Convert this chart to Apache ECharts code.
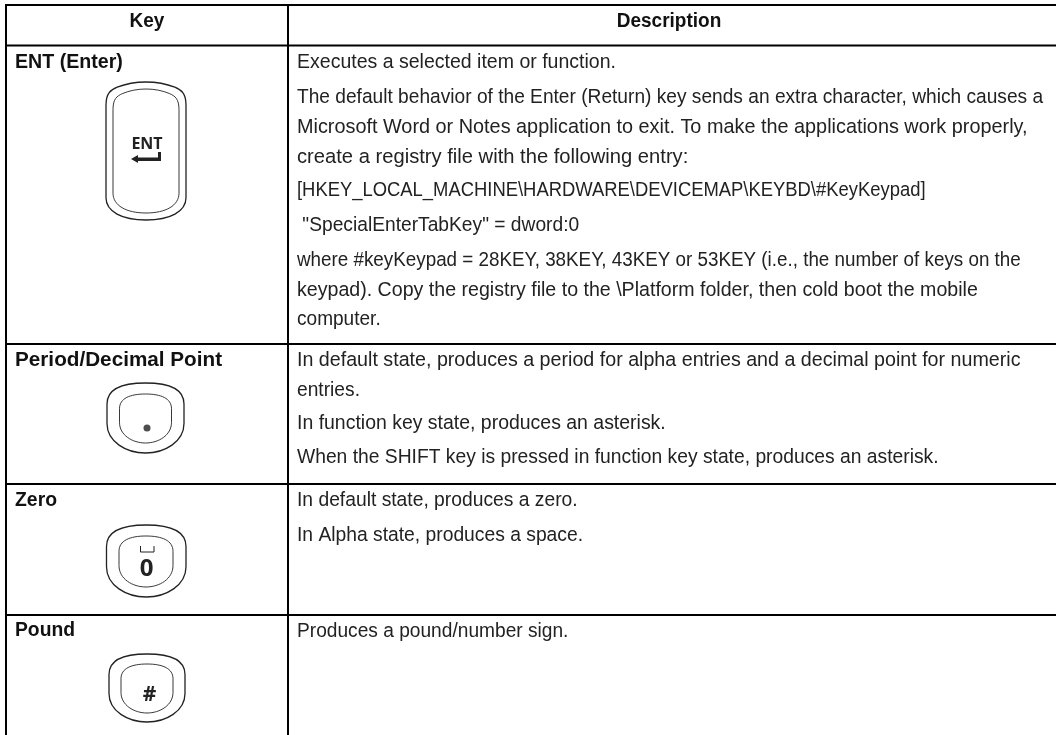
<!DOCTYPE html>
<html>
<head>
<meta charset="utf-8">
<style>html,body{margin:0;padding:0;background:#fff}#box{width:1056px;height:735px}</style>
<script src="https://cdn.jsdelivr.net/npm/echarts@6/dist/echarts.min.js"></script>
</head>
<body>
<div id="box"></div>
<script>
// table content
var headers = ['Key', 'Description'];
var keyNames = ['ENT (Enter)', 'Period/Decimal Point', 'Zero', 'Pound'];
var descLines = [
    'Executes a selected item or function.',
    'The default behavior of the Enter (Return) key sends an extra character, which causes a',
    'Microsoft Word or Notes application to exit. To make the applications work properly,',
    'create a registry file with the following entry:',
    '[HKEY_LOCAL_MACHINE\\HARDWARE\\DEVICEMAP\\KEYBD\\#KeyKeypad]',
    ' "SpecialEnterTabKey" = dword:0',
    'where #keyKeypad = 28KEY, 38KEY, 43KEY or 53KEY (i.e., the number of keys on the',
    'keypad). Copy the registry file to the \\Platform folder, then cold boot the mobile',
    'computer.',
    'In default state, produces a period for alpha entries and a decimal point for numeric',
    'entries.',
    'In function key state, produces an asterisk.',
    'When the SHIFT key is pressed in function key state, produces an asterisk.',
    'In default state, produces a zero.',
    'In Alpha state, produces a space.',
    'Produces a pound/number sign.'
];
var keyGlyphs = ['ENT', '0', '#'];

// layout, in page pixels
var W = 1056, H = 735;
var headerX = [147, 669], headerY = 21;
var keyNameY = [62, 360, 500, 630];
var descY = [62, 97, 127, 157, 190, 225, 260, 290, 319, 360, 390, 423, 457, 500, 535, 631];
var hRules = [5, 45.5, 344, 484, 615];
var vRules = [6, 288];
var glyphPos = [[147, 144, 16], [146.5, 569, 24], [149.5, 695.5, 21]];
var arrowPoints = [[131, 159], [138, 155], [138, 157.5], [158, 157.5], [158, 152], [161, 152], [161, 161], [138, 161], [138, 163]];
var spacePoints = [[140.5, 546], [140.5, 552], [154, 552], [154, 546]];

// horizontal squeeze per line, the source font is a narrow one
var headerScale = 0.95;
var nameScale = [0.98, 1.035, 0.97, 0.965];
var descScale = [0.952, 0.934, 0.968, 0.984, 0.898, 0.937, 0.918, 0.956, 0.93, 0.959, 0.937, 0.949, 0.94, 0.94, 0.94, 0.934];

// key caps: [x, y, w, h, tall?], outer then inner
var capBoxes = [
    [106, 82, 80, 138, 1], [113, 89, 66, 124, 1],
    [107, 383, 77, 70, 0], [119.5, 394, 52, 49, 0],
    [106.5, 525, 79.5, 72, 0], [119, 536, 54, 51, 0],
    [109, 654, 76, 68, 0], [121, 664, 52, 49, 0]
];
var shortCap = 'M0,30 C0,9 20,0 50,0 C80,0 100,9 100,30 L100,58 C100,84 75,100 50,100 C25,100 0,84 0,58 Z';
var tallCap = 'M0,17 C0,8 6,6 14,4 C36,-1 64,-1 86,4 C94,6 100,8 100,17 L100,84 C100,94 80,100 50,100 C20,100 0,94 0,84 Z';

var fontName = '"Liberation Sans", sans-serif';
var ink = '#222';

var myChart = echarts.init(document.getElementById('box'));

function textItem(text, x, y, size, weight, align, color, family, sx) {
    return {
        type: 'text',
        x: x,
        y: y,
        scaleX: sx || 1,
        style: {
            text: text, x: 0, y: 0,
            fontFamily: family || fontName, fontSize: size, fontWeight: weight,
            fill: color || ink, align: align, verticalAlign: 'middle'
        }
    };
}

function toPoints(list, api) {
    return list.map(function (p) { return api.coord(p); });
}

var option = {
    backgroundColor: '#fff',
    animation: false,
    grid: { left: 0, right: 0, top: 0, bottom: 0 },
    xAxis: { type: 'value', min: 0, max: W, show: false },
    yAxis: { type: 'value', min: 0, max: H, inverse: true, show: false },
    series: [
        {
            // rules
            type: 'custom', silent: true, clip: false,
            data: hRules.map(function (y) { return [vRules[0] - 1, y, W, y]; })
                .concat(vRules.map(function (x) { return [x, hRules[0], x, H]; })),
            renderItem: function (params, api) {
                var a = api.coord([api.value(0), api.value(1)]);
                var b = api.coord([api.value(2), api.value(3)]);
                return { type: 'line', shape: { x1: a[0], y1: a[1], x2: b[0], y2: b[1] }, style: { stroke: '#000', lineWidth: 2 } };
            }
        },
        {
            // key caps
            type: 'custom', silent: true, clip: false,
            data: capBoxes,
            renderItem: function (params, api) {
                var p = api.coord([api.value(0), api.value(1)]);
                var isOuter = params.dataIndex % 2 === 0;
                return {
                    type: 'path',
                    shape: {
                        pathData: api.value(4) ? tallCap : shortCap, layout: 'cover',
                        x: p[0], y: p[1], width: api.value(2), height: api.value(3)
                    },
                    style: { fill: 'none', stroke: '#222', lineWidth: isOuter ? 1.3 : 0.9 }
                };
            }
        },
        {
            // headers
            type: 'custom', silent: true, clip: false,
            data: headerX.map(function (x) { return [x, headerY]; }),
            renderItem: function (params, api) {
                var p = api.coord([api.value(0), api.value(1)]);
                return textItem(headers[params.dataIndex], p[0], p[1], 20, 'bold', 'center', '#111', null, headerScale);
            }
        },
        {
            // key names
            type: 'custom', silent: true, clip: false,
            data: keyNameY.map(function (y) { return [15, y]; }),
            renderItem: function (params, api) {
                var p = api.coord([api.value(0), api.value(1)]);
                return textItem(keyNames[params.dataIndex], p[0], p[1], 20, 'bold', 'left', '#111', null, nameScale[params.dataIndex]);
            }
        },
        {
            // description lines
            type: 'custom', silent: true, clip: false,
            data: descY.map(function (y) { return [297, y]; }),
            renderItem: function (params, api) {
                var p = api.coord([api.value(0), api.value(1)]);
                return textItem(descLines[params.dataIndex], p[0], p[1], 20.5, 'normal', 'left', '#222', null, descScale[params.dataIndex]);
            }
        },
        {
            // glyphs on the keys
            type: 'custom', silent: true, clip: false,
            data: glyphPos,
            renderItem: function (params, api) {
                var p = api.coord([api.value(0), api.value(1)]);
                return textItem(keyGlyphs[params.dataIndex], p[0], p[1], api.value(2), 'bold', 'center', '#222', '"Open Sans", sans-serif');
            }
        },
        {
            // decimal dot on the period key
            type: 'scatter', silent: true, symbol: 'circle', symbolSize: 7,
            itemStyle: { color: '#222' },
            data: [[147, 428]]
        },
        {
            // enter arrow and space mark
            type: 'custom', silent: true, clip: false,
            data: [[0, 0]],
            renderItem: function (params, api) {
                return {
                    type: 'group',
                    children: [
                        { type: 'polygon', shape: { points: toPoints(arrowPoints, api) }, style: { fill: '#222' } },
                        { type: 'polyline', shape: { points: toPoints(spacePoints, api) }, style: { fill: 'none', stroke: '#222', lineWidth: 1 } }
                    ]
                };
            }
        }
    ]
};

myChart.setOption(option);
</script>
</body>
</html>
